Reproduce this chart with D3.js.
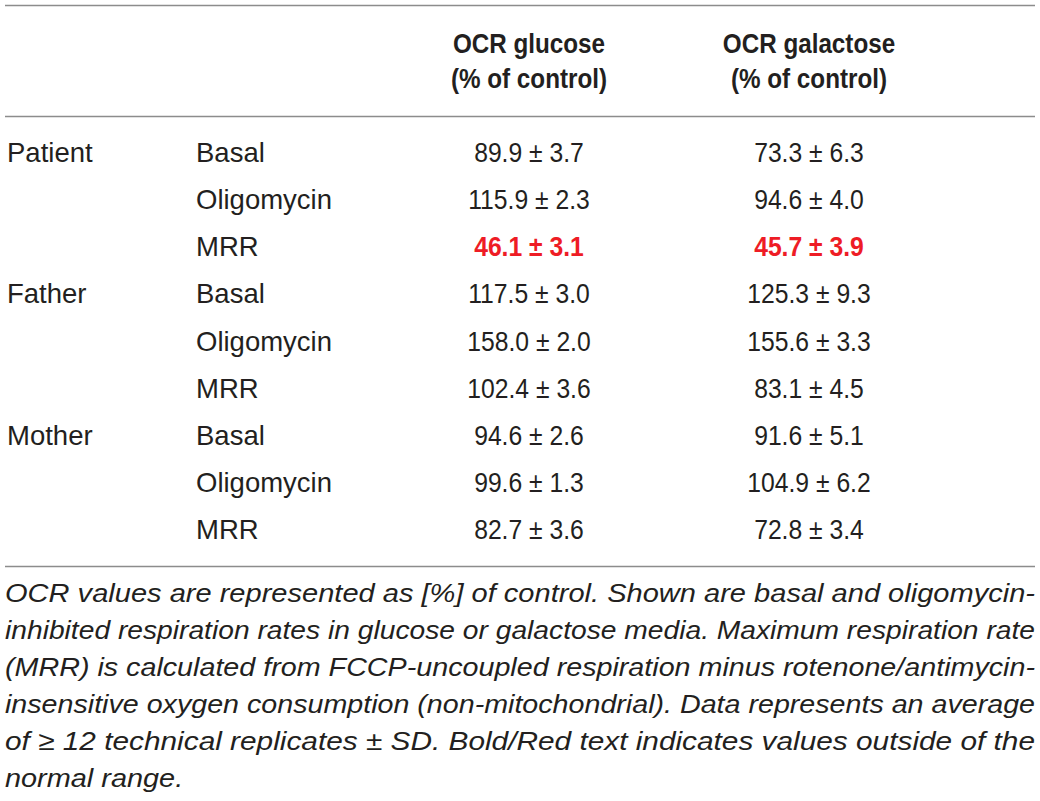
<!DOCTYPE html>
<html>
<head>
<meta charset="utf-8">
<script src="https://cdn.jsdelivr.net/npm/d3@7"></script>
<style>
  html, body { margin: 0; padding: 0; background: #fff; }
  svg { display: block; }
</style>
</head>
<body>
<div id="table-container"></div>
<script>
'use strict';

// Table content
const subjects = ['Patient', 'Father', 'Mother'];
const conditions = ['Basal', 'Oligomycin', 'MRR'];
const headers = [
  ['OCR glucose', '(% of control)'],
  ['OCR galactose', '(% of control)'],
];
const glucoseMean = [89.9, 115.9, 46.1, 117.5, 158.0, 102.4, 94.6, 99.6, 82.7];
const glucoseSd = [3.7, 2.3, 3.1, 3.0, 2.0, 3.6, 2.6, 1.3, 3.6];
const galactoseMean = [73.3, 94.6, 45.7, 125.3, 155.6, 83.1, 91.6, 104.9, 72.8];
const galactoseSd = [6.3, 4.0, 3.9, 9.3, 3.3, 4.5, 5.1, 6.2, 3.4];
// rows with values outside of the normal range (bold / red)
const abnormal = [false, false, true, false, false, false, false, false, false];

const captionLines = [
  'OCR values are represented as [%] of control. Shown are basal and oligomycin-',
  'inhibited respiration rates in glucose or galactose media. Maximum respiration rate',
  '(MRR) is calculated from FCCP-uncoupled respiration minus rotenone/antimycin-',
  'insensitive oxygen consumption (non-mitochondrial). Data represents an average',
  'of \u2265 12 technical replicates \u00b1 SD. Bold/Red text indicates values outside of the',
  'normal range.',
];

const width = 1040;
const height = 801;
const textColor = '#231f20';
const ruleColor = '#8c8c8c';
const red = '#ee1c25';
const fontFamily = '"Liberation Sans", Arial, Helvetica, sans-serif';

const svg = d3.select('#table-container')
  .append('svg')
  .attr('width', width)
  .attr('height', height)
  .style('font-family', fontFamily);

// Squeeze a text element horizontally by a factor (font is narrower in the original)
const squeeze = (sel, k) => sel.each(function () {
  const w = this.getComputedTextLength();
  d3.select(this).attr('textLength', w * k).attr('lengthAdjust', 'spacingAndGlyphs');
});

// Build the row records
const rows = glucoseMean.map((g, i) => ({
  subject: i % conditions.length === 0 ? subjects[Math.floor(i / conditions.length)] : '',
  condition: conditions[i % conditions.length],
  glucose: `${d3.format('.1f')(g)} \u00b1 ${d3.format('.1f')(glucoseSd[i])}`,
  galactose: `${d3.format('.1f')(galactoseMean[i])} \u00b1 ${d3.format('.1f')(galactoseSd[i])}`,
  abnormal: abnormal[i],
}));

// Row baseline scale
const yScale = d3.scaleLinear()
  .domain([0, rows.length - 1])
  .range([162, 539]);

// Column x positions
const columns = ['subject', 'condition', 'glucose', 'galactose'];
const xScale = d3.scaleOrdinal()
  .domain(columns)
  .range([7, 196, 529, 809]);
const isValue = (c) => c === 'glucose' || c === 'galactose';

// Horizontal rules
const rules = [5, 116, 566];
svg.selectAll('line.rule')
  .data(rules)
  .join('line')
  .attr('class', 'rule')
  .attr('x1', 5)
  .attr('x2', 1035)
  .attr('y1', (d) => d + 0.5)
  .attr('y2', (d) => d + 0.5)
  .attr('stroke', ruleColor)
  .attr('stroke-width', 1.5);

// Header
const headerG = svg.append('g');
headers.forEach((lines, i) => {
  const col = i === 0 ? 'glucose' : 'galactose';
  lines.forEach((t, j) => {
    headerG.append('text')
      .attr('x', xScale(col))
      .attr('y', 53 + j * 35)
      .attr('text-anchor', 'middle')
      .attr('font-size', 28)
      .attr('font-weight', 'bold')
      .attr('fill', textColor)
      .text(t)
      .call(squeeze, 0.865);
  });
});

// Body cells
const rowG = svg.selectAll('g.row')
  .data(rows)
  .join('g')
  .attr('class', 'row')
  .attr('transform', (d, i) => `translate(0, ${yScale(i)})`);

columns.forEach((c) => {
  const cells = rowG.append('text')
    .attr('x', xScale(c))
    .attr('text-anchor', isValue(c) ? 'middle' : 'start')
    .attr('font-size', isValue(c) ? 27 : 27.5)
    .attr('font-weight', (d) => (d.abnormal && isValue(c)) ? 'bold' : 'normal')
    .attr('fill', (d) => (d.abnormal && isValue(c)) ? red : textColor)
    .text((d) => d[c]);
  if (isValue(c)) cells.call(squeeze, 0.915);
});

// Caption, justified to the table width
const captionScale = d3.scaleLinear()
  .domain([0, captionLines.length - 1])
  .range([602, 787]);

const caption = svg.selectAll('text.caption')
  .data(captionLines)
  .join('text')
  .attr('class', 'caption')
  .attr('x', 5)
  .attr('y', (d, i) => captionScale(i))
  .attr('font-size', 26.5)
  .attr('font-style', 'italic')
  .attr('fill', textColor)
  .text((d) => d);

const naturals = caption.nodes().map((n) => n.getComputedTextLength());
const ratios = naturals.slice(0, -1).map((w) => 1030 / w);
const meanRatio = d3.mean(ratios);
caption.each(function (d, i) {
  const target = i < captionLines.length - 1 ? 1030 : naturals[i] * meanRatio;
  d3.select(this).attr('textLength', target).attr('lengthAdjust', 'spacingAndGlyphs');
});
</script>
</body>
</html>
